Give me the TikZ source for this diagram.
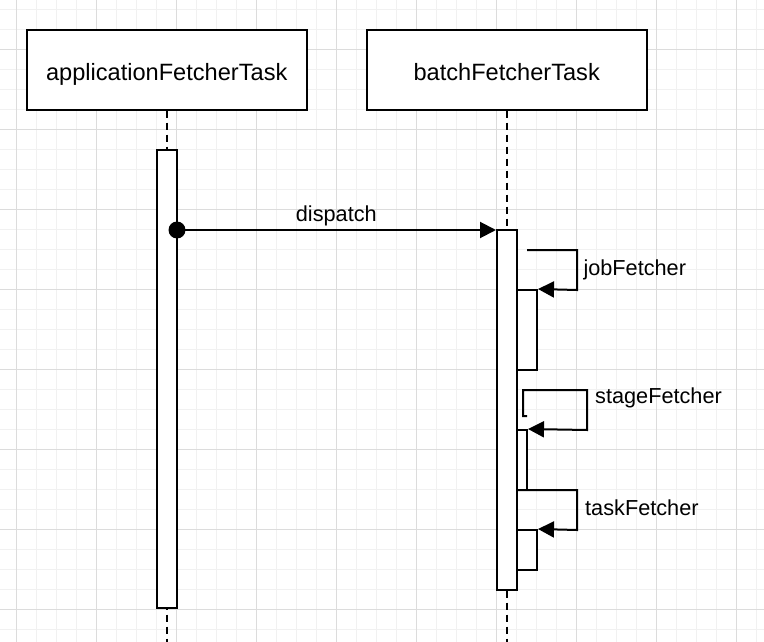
\documentclass[tikz,border=0pt]{standalone}
\usepackage{fontspec}
\setmainfont{Liberation Sans}
\usetikzlibrary{arrows.meta}
\definecolor{gridminor}{HTML}{F1F1F1}
\definecolor{gridmajor}{HTML}{DCDCDC}
\tikzset{
  lifebox/.style={draw=black, line width=2pt, fill=white, minimum width=280pt, minimum height=80pt,
    inner sep=0pt, text height=22.6pt, text depth=0pt, font=\fontsize{23.6}{28}\selectfont},
  actbar/.style={draw=black, line width=2pt, fill=white, inner sep=0pt},
  lifeline/.style={line width=2pt, dash pattern=on 7pt off 5pt},
  msg/.style={line width=2pt, -{Triangle[length=16pt,width=16pt]}},
  msglabel/.style={inner sep=0pt, font=\fontsize{21.7}{26}\selectfont},
  startdot/.style={circle, fill=black, minimum size=17pt, inner sep=0pt},
}
\begin{document}
\begin{tikzpicture}[x=1pt,y=-1pt]
\useasboundingbox (0,0) rectangle (764,642);
% grid
\begin{scope}
\clip (0,0) rectangle (764,642);
\foreach \i in {0,...,37} \draw[gridminor, line width=1pt] (16.7+20*\i,0) -- (16.7+20*\i,642);
\foreach \j in {0,...,31} \draw[gridminor, line width=1pt] (0,9.3+20*\j) -- (764,9.3+20*\j);
\foreach \i in {0,...,9} \draw[gridmajor, line width=1pt] (16.7+80*\i,0) -- (16.7+80*\i,642);
\foreach \j in {-1,...,7} \draw[gridmajor, line width=1pt] (0,49.3+80*\j) -- (764,49.3+80*\j);
\end{scope}
% participants
\node[lifebox] (A) at (166.7,69.7) {applicationFetcherTask};
\node[lifebox] (B) at (506.7,69.7) {batchFetcherTask};
\coordinate (Aend) at (166.7,642);
\coordinate (Bend) at (506.7,642);
\draw[lifeline] (A.south) -- (Aend);
\draw[lifeline] (B.south) -- (Bend);
% activation bars
\node[actbar, minimum width=20pt, minimum height=458pt] (a1) at (167,379) {};
\node[actbar, minimum width=20pt, minimum height=360pt] (b1) at (507,410) {};
\node[actbar, minimum width=20pt, minimum height=80pt] (n1) at (527,330) {};
\node[actbar, minimum width=10pt, minimum height=60pt] (n2) at (522,460) {};
\node[actbar, minimum width=20pt, minimum height=40pt] (n3) at (527,550) {};
% dispatch
\node[startdot] (d) at (177,230) {};
\draw[msg] (d.center) -- (b1.west |- d.center);
\node[msglabel, anchor=base] (dlabel) at (336.3,221) {dispatch};
% jobFetcher
\coordinate (j0) at (527,250);
\draw[msg] (j0) -- (577,250) -- (577,290) -- (n1.north east);
\node[msglabel, anchor=base west] (jl) at (583.3,275.5) {jobFetcher};
% stageFetcher
\coordinate (s0) at (527,416);
\draw[msg] (s0) -- (523,416) -- (523,390) -- (587,390) -- (587,430) -- (n2.north east);
\node[msglabel, anchor=base west] (sl) at (595,403.3) {stageFetcher};
% taskFetcher
\draw[msg] (b1.east |- 0,490) -- (577,490) -- (577,530) -- (n3.north east);
\node[msglabel, anchor=base west] (tl) at (585,515) {taskFetcher};
\end{tikzpicture}
\end{document}
